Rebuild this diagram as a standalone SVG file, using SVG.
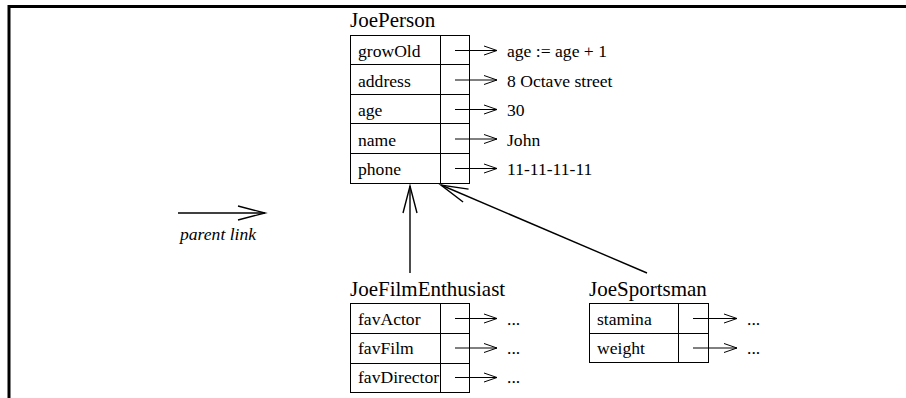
<svg xmlns="http://www.w3.org/2000/svg" width="906" height="398" viewBox="0 0 906 398">
  <style>
    text { font-family: "Liberation Serif", "Times New Roman", serif; fill: #000; }
    .title { font-size: 21px; }
    .slot { font-size: 17.6px; }
    .val { font-size: 17.6px; }
    .cap { font-size: 17.6px; font-style: italic; }
    .box { fill: none; stroke: #000; stroke-width: 1; }
    .ln { fill: none; stroke: #000; stroke-width: 1; }
    .frame { fill: none; stroke: #000; stroke-width: 3; }
    .small { marker-end: url(#headSmall); }
    .big { fill: none; stroke: #000; stroke-width: 1.4; marker-end: url(#headBig); }
  </style>
  <defs>
    <marker id="headSmall" markerUnits="userSpaceOnUse" viewBox="-1 -1 16 11" refX="13" refY="4.5" markerWidth="16" markerHeight="11" orient="auto" overflow="visible">
      <path d="M0,0 L13,4.5 L0,9" fill="none" stroke="#000" stroke-width="1"/>
    </marker>
    <marker id="headBig" markerUnits="userSpaceOnUse" viewBox="-1 -1 30 16" refX="27" refY="7" markerWidth="30" markerHeight="16" orient="auto" overflow="visible">
      <path d="M0,0 L27,7 L0,14" fill="none" stroke="#000" stroke-width="1.4"/>
    </marker>
  </defs>

  <rect width="906" height="398" fill="#fff"/>
  <!-- page frame -->
  <path class="frame" d="M9,398 V6.5 H906"/>

  <!-- legend -->
  <g id="legend">
    <line class="big" x1="178" y1="213" x2="265" y2="213"/>
    <text class="cap" x="180" y="240">parent link</text>
  </g>

  <!-- JoePerson -->
  <g id="JoePerson">
    <text class="title" x="350" y="27">JoePerson</text>
    <rect class="box" x="350.5" y="35.5" width="119" height="148"/>
    <line class="ln" x1="440.5" y1="35.5" x2="440.5" y2="183.5"/>
    <line class="ln" x1="350.5" y1="64.5" x2="469.5" y2="64.5"/>
    <line class="ln" x1="350.5" y1="94.5" x2="469.5" y2="94.5"/>
    <line class="ln" x1="350.5" y1="123.5" x2="469.5" y2="123.5"/>
    <line class="ln" x1="350.5" y1="153.5" x2="469.5" y2="153.5"/>
    <text class="slot" x="358" y="57">growOld</text>
    <text class="slot" x="358" y="86.6">address</text>
    <text class="slot" x="358" y="116.2">age</text>
    <text class="slot" x="358" y="145.8">name</text>
    <text class="slot" x="358" y="175.4">phone</text>
    <line class="ln small" x1="455" y1="50.5" x2="497" y2="50.5"/>
    <line class="ln small" x1="455" y1="80" x2="497" y2="80"/>
    <line class="ln small" x1="455" y1="109.5" x2="497" y2="109.5"/>
    <line class="ln small" x1="455" y1="139" x2="497" y2="139"/>
    <line class="ln small" x1="455" y1="168.5" x2="497" y2="168.5"/>
    <text class="val" x="507" y="57">age := age + 1</text>
    <text class="val" x="507" y="86.6">8 Octave street</text>
    <text class="val" x="507" y="116.2">30</text>
    <text class="val" x="507" y="145.8">John</text>
    <text class="val" x="507" y="175.4">11-11-11-11</text>
  </g>

  <!-- JoeFilmEnthusiast -->
  <g id="JoeFilmEnthusiast">
    <text class="title" x="350" y="296">JoeFilmEnthusiast</text>
    <rect class="box" x="350.5" y="303.5" width="119" height="89"/>
    <line class="ln" x1="440.5" y1="303.5" x2="440.5" y2="392.5"/>
    <line class="ln" x1="350.5" y1="333.5" x2="469.5" y2="333.5"/>
    <line class="ln" x1="350.5" y1="363.5" x2="469.5" y2="363.5"/>
    <text class="slot" x="358" y="325">favActor</text>
    <text class="slot" x="358" y="354">favFilm</text>
    <text class="slot" x="358" y="383">favDirector</text>
    <line class="ln small" x1="455" y1="318.5" x2="497" y2="318.5"/>
    <line class="ln small" x1="455" y1="348" x2="497" y2="348"/>
    <line class="ln small" x1="455" y1="377.5" x2="497" y2="377.5"/>
    <text class="val" x="507" y="325">...</text>
    <text class="val" x="507" y="354">...</text>
    <text class="val" x="507" y="383">...</text>
  </g>

  <!-- JoeSportsman -->
  <g id="JoeSportsman">
    <text class="title" x="589" y="296">JoeSportsman</text>
    <rect class="box" x="589.5" y="303.5" width="119" height="59"/>
    <line class="ln" x1="678.5" y1="303.5" x2="678.5" y2="362.5"/>
    <line class="ln" x1="589.5" y1="333.5" x2="708.5" y2="333.5"/>
    <text class="slot" x="597" y="325">stamina</text>
    <text class="slot" x="597" y="354">weight</text>
    <line class="ln small" x1="693" y1="318.5" x2="737" y2="318.5"/>
    <line class="ln small" x1="693" y1="348" x2="737" y2="348"/>
    <text class="val" x="747" y="325">...</text>
    <text class="val" x="747" y="354">...</text>
  </g>

  <!-- parent links -->
  <g id="connectors">
    <line class="big" x1="410" y1="273" x2="410" y2="186"/>
    <line class="big" x1="647" y1="273" x2="441" y2="185"/>
  </g>
</svg>
